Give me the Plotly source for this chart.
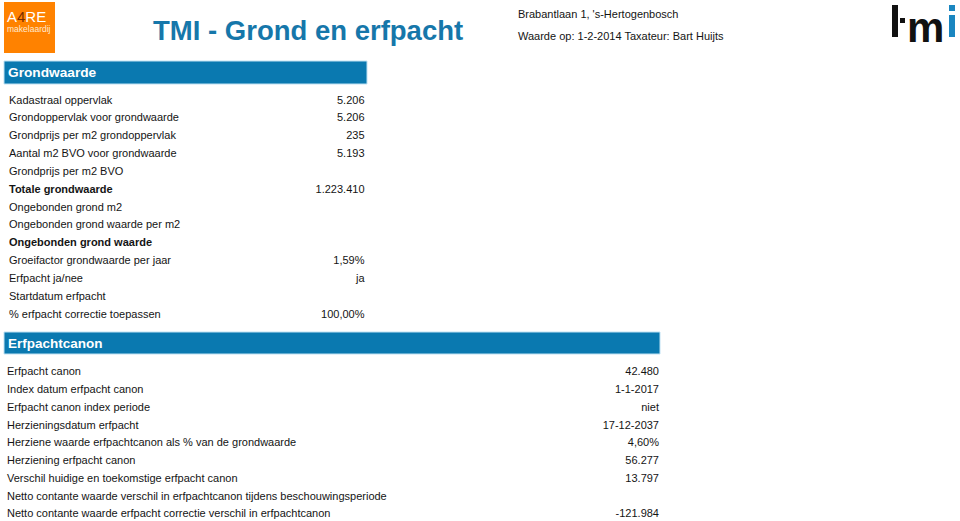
import plotly.graph_objects as go

# ---- data ----
title = "TMI - Grond en erfpacht"
address = "Brabantlaan 1, 's-Hertogenbosch"
valuation = "Waarde op: 1-2-2014 Taxateur: Bart Huijts"

sec1_title = "Grondwaarde"
sec1_labels = [
    "Kadastraal oppervlak", "Grondoppervlak voor grondwaarde", "Grondprijs per m2 grondoppervlak",
    "Aantal m2 BVO voor grondwaarde", "Grondprijs per m2 BVO", "Totale grondwaarde",
    "Ongebonden grond m2", "Ongebonden grond waarde per m2", "Ongebonden grond waarde",
    "Groeifactor grondwaarde per jaar", "Erfpacht ja/nee", "Startdatum erfpacht",
    "% erfpacht correctie toepassen",
]
sec1_values = ["5.206", "5.206", "235", "5.193", "", "1.223.410", "", "", "",
               "1,59%", "ja", "", "100,00%"]
sec1_bold = [False, False, False, False, False, True, False, False, True,
             False, False, False, False]

sec2_title = "Erfpachtcanon"
sec2_labels = [
    "Erfpacht canon", "Index datum erfpacht canon", "Erfpacht canon index periode",
    "Herzieningsdatum erfpacht", "Herziene waarde erfpachtcanon als % van de grondwaarde",
    "Herziening erfpacht canon", "Verschil huidige en toekomstige erfpacht canon",
    "Netto contante waarde verschil in erfpachtcanon tijdens beschouwingsperiode",
    "Netto contante waarde erfpacht correctie verschil in erfpachtcanon",
]
sec2_values = ["42.480", "1-1-2017", "niet", "17-12-2037", "4,60%", "56.277", "13.797",
               "", "-121.984"]

# ---- styles ----
BLUE = "#0a79b0"
TITLE_BLUE = "#1677aa"
FONT = "Liberation Sans, Arial, sans-serif"
TXT = "#141414"

fig = go.Figure()

def rows(y0, step, n):
    return [y0 + i * step for i in range(n)]

y1 = rows(100.8, 17.83, len(sec1_labels))
fig.add_trace(go.Scatter(
    x=[9] * len(sec1_labels), y=y1, mode="text",
    text=[f"<b>{l}</b>" if b else l for l, b in zip(sec1_labels, sec1_bold)],
    textposition="middle right",
    textfont=dict(family=FONT, size=11, color=TXT), hoverinfo="skip"))
fig.add_trace(go.Scatter(
    x=[364.5] * len(sec1_values), y=y1, mode="text", text=sec1_values,
    textposition="middle left",
    textfont=dict(family=FONT, size=11, color=TXT), hoverinfo="skip"))

y2 = rows(372.5, 17.75, len(sec2_labels))
fig.add_trace(go.Scatter(
    x=[7] * len(sec2_labels), y=y2, mode="text", text=sec2_labels,
    textposition="middle right",
    textfont=dict(family=FONT, size=11, color=TXT), hoverinfo="skip"))
fig.add_trace(go.Scatter(
    x=[659] * len(sec2_values), y=y2, mode="text", text=sec2_values,
    textposition="middle left",
    textfont=dict(family=FONT, size=11, color=TXT), hoverinfo="skip"))

shapes = [
    # section bars
    dict(type="rect", x0=4, x1=367, y0=61, y1=84, fillcolor=BLUE,
         line=dict(color="#bfe2f3", width=1)),
    dict(type="rect", x0=4, x1=660, y0=332, y1=354, fillcolor=BLUE,
         line=dict(color="#bfe2f3", width=1)),
    # A4RE logo square
    dict(type="rect", x0=4, x1=55, y0=2, y1=53, fillcolor="#ff8200", line=dict(width=0)),
    # tmi logo pieces
    dict(type="rect", x0=892, x1=898, y0=5, y1=37, fillcolor="#111111", line=dict(width=0)),
    dict(type="rect", x0=900, x1=905, y0=18, y1=23, fillcolor="#111111", line=dict(width=0)),
    dict(type="rect", x0=949, x1=955, y0=15, y1=37, fillcolor="#1a86c0", line=dict(width=0)),
    dict(type="rect", x0=949, x1=955, y0=5, y1=11, fillcolor="#1a86c0", line=dict(width=0)),
]

logo_text = ('<span style="font-size:15px">A<span style="color:#7a2d00">4</span>RE</span>'
             '<br><span style="font-size:8.5px;color:#ffe9d0">makelaardij</span>')

annotations = [
    dict(x=152, y=30, text=f"<b>{title}</b>", xanchor="left", yanchor="middle",
         font=dict(family=FONT, size=27.5, color=TITLE_BLUE)),
    dict(x=517, y=13.5, text=address, xanchor="left", yanchor="middle",
         font=dict(family=FONT, size=11, color=TXT)),
    dict(x=517, y=35.5, text=valuation, xanchor="left", yanchor="middle",
         font=dict(family=FONT, size=11, color=TXT)),
    dict(x=7, y=72.5, text=f"<b>{sec1_title}</b>", xanchor="left", yanchor="middle",
         font=dict(family=FONT, size=13.7, color="white")),
    dict(x=7, y=343, text=f"<b>{sec2_title}</b>", xanchor="left", yanchor="middle",
         font=dict(family=FONT, size=13.5, color="white")),
    dict(x=6, y=7, text=logo_text, xanchor="left", yanchor="top", align="left",
         font=dict(family=FONT, size=7.5, color="white")),
    dict(x=906, y=27, text="<b>m</b>", xanchor="left", yanchor="middle",
         font=dict(family=FONT, size=42, color="#111111")),
]

fig.update_layout(
    width=960, height=521, margin=dict(l=0, r=0, t=0, b=0),
    paper_bgcolor="white", plot_bgcolor="white", showlegend=False,
    xaxis=dict(range=[0, 960], visible=False, fixedrange=True),
    yaxis=dict(range=[521, 0], visible=False, fixedrange=True),
    shapes=shapes,
    annotations=[dict(a, showarrow=False, xref="x", yref="y", borderpad=0) for a in annotations],
)

fig.write_html("out.html", config={"displayModeBar": False},
               post_script="document.body.style.margin='0';document.body.style.overflow='hidden';")
